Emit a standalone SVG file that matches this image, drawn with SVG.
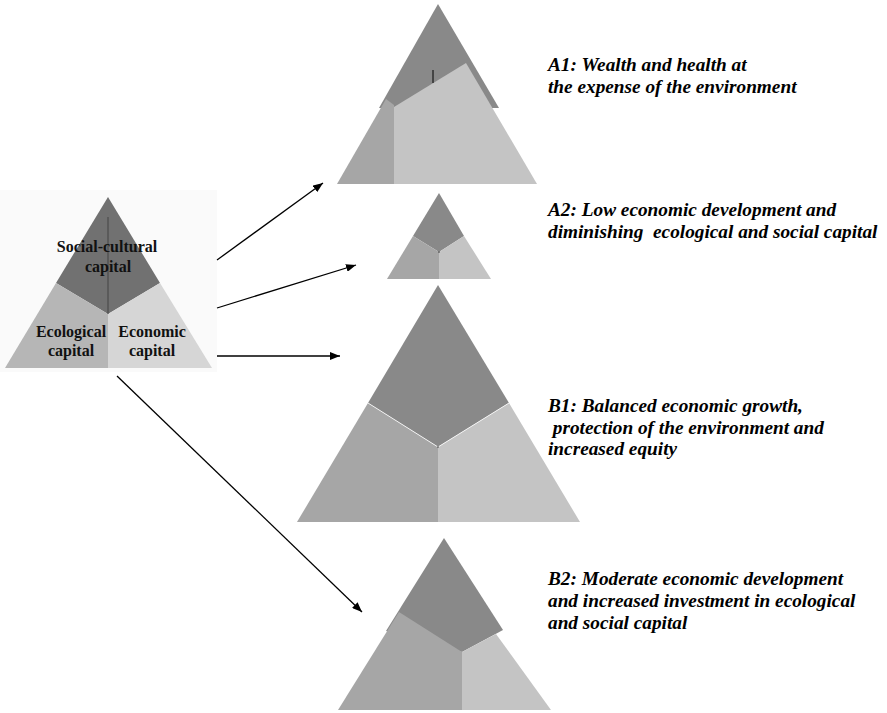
<svg xmlns="http://www.w3.org/2000/svg" width="887" height="713" viewBox="0 0 887 713">
<defs>
<style>
.lbl{font-family:"Liberation Serif","Times New Roman",serif;font-weight:bold;font-size:16px;fill:#111}
.cap{font-family:"Liberation Serif","Times New Roman",serif;font-weight:bold;font-style:italic;font-size:19.3px;fill:#000}
.soc{fill:#898989}
.eco{fill:#a6a6a6}
.ecn{fill:#c4c4c4}
.conn{stroke:#000;stroke-width:1.3;fill:none;marker-end:url(#ah)}
</style>
<marker id="ah" viewBox="0 0 10 8" refX="10" refY="4" markerWidth="10" markerHeight="8" markerUnits="userSpaceOnUse" orient="auto">
<path d="M0,0 L10,4 L0,8 Z" fill="#000"/>
</marker>
</defs>
<rect width="887" height="713" fill="#fff"/>

<g id="source">
<rect x="0" y="190" width="217" height="182" fill="#fafafa"/>
<polygon points="108,197 160,283 108,314 56,283" fill="#717171"/>
<polygon points="56,283 108,314 108,368 5,368" fill="#b6b6b6"/>
<polygon points="160,283 212,368 108,368 108,314" fill="#d6d6d6"/>
<line x1="108" y1="217" x2="108" y2="314" stroke="#444" stroke-width="1"/>
<text class="lbl" x="107" y="252" text-anchor="middle">Social-cultural</text>
<text class="lbl" x="108" y="272" text-anchor="middle">capital</text>
<text class="lbl" x="71" y="337" text-anchor="middle">Ecological</text>
<text class="lbl" x="71" y="356" text-anchor="middle">capital</text>
<text class="lbl" x="152" y="337" text-anchor="middle">Economic</text>
<text class="lbl" x="152" y="356" text-anchor="middle">capital</text>
</g>

<g id="A1">
<polygon class="soc" points="438,4 499,108 379,108"/>
<polygon class="eco" points="337,184 386,99 394,105 394,184"/>
<polygon class="ecn" points="394,107 466,63 537,184 394,184"/>
<line x1="433" y1="70" x2="433" y2="83" stroke="#000" stroke-width="1"/>
<text class="cap" x="548" y="71">A1: Wealth and health at</text>
<text class="cap" x="548" y="93">the expense of the environment</text>
</g>

<g id="A2">
<polygon class="soc" points="439,193 464,236 439,252 413,236"/>
<polygon class="eco" points="413,236 439,252 439,279 387,279"/>
<polygon class="ecn" points="464,236 491,279 439,279 439,252"/>
<circle cx="439" cy="252" r="0.8" fill="#333"/>
<text class="cap" x="548" y="216">A2: Low economic development and</text>
<text class="cap" x="548" y="238" xml:space="preserve">diminishing  ecological and social capital</text>
</g>

<g id="B1">
<polygon class="soc" points="438,285 509,403 438,447 368,403"/>
<polygon class="eco" points="368,403 438,447 438,522 297,522"/>
<polygon class="ecn" points="509,403 580,522 438,522 438,447"/>
<polyline points="368,403 438,447 509,403" fill="none" stroke="#fff" stroke-width="0.8"/>
<circle cx="438" cy="447" r="0.8" fill="#333"/>
<text class="cap" x="548" y="412">B1: Balanced economic growth,</text>
<text class="cap" x="548" y="434" xml:space="preserve"> protection of the environment and</text>
<text class="cap" x="548" y="455">increased equity</text>
</g>

<g id="B2">
<polygon class="soc" points="444,538 503,630 462,652 386,631"/>
<polygon class="eco" points="399,612 462,652 462,710 338,710"/>
<polygon class="ecn" points="496,634 551,710 462,710 462,652"/>
<text class="cap" x="548" y="585">B2: Moderate economic development</text>
<text class="cap" x="548" y="607">and increased investment in ecological</text>
<text class="cap" x="548" y="629">and social capital</text>
</g>

<g id="connectors">
<line class="conn" x1="217" y1="260" x2="323" y2="183"/>
<line class="conn" x1="217" y1="308" x2="356" y2="265"/>
<line class="conn" x1="217" y1="356" x2="340" y2="356"/>
<line class="conn" x1="117" y1="376" x2="362" y2="612"/>
</g>
</svg>
